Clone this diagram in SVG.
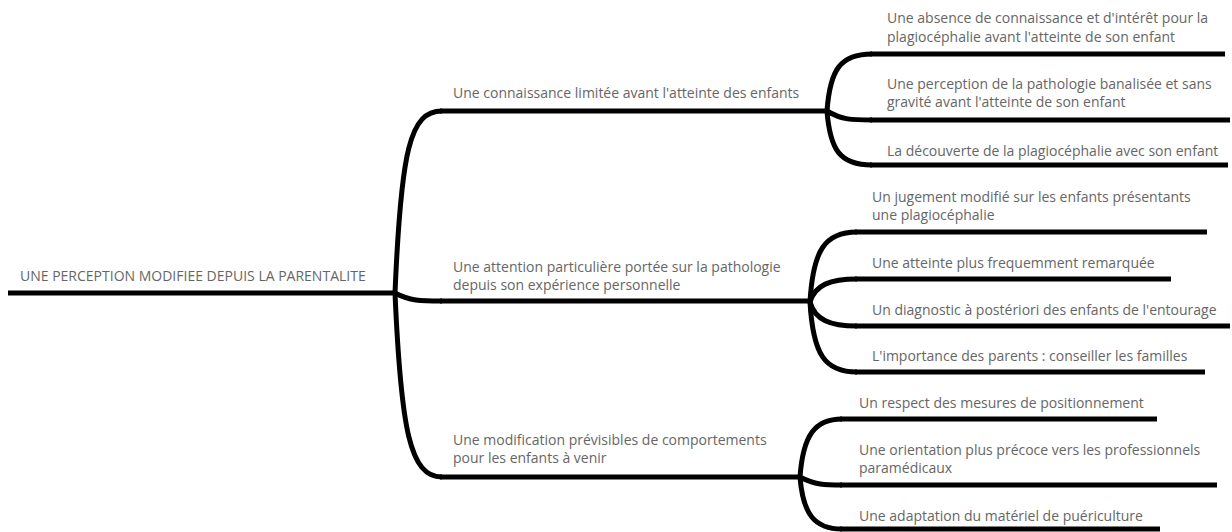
<svg xmlns="http://www.w3.org/2000/svg" width="1232" height="532" viewBox="0 0 1232 532">
<style>
text{font-family:"Open Sans","Noto Sans","DejaVu Sans",sans-serif;font-size:14px;fill:#666}
.u{stroke:#000;stroke-width:5;fill:none}
.c{stroke:#000;stroke-width:5;fill:none}
</style>
<rect width="1232" height="532" fill="#fff"/>
<g id="connectors">
<path class="c" d="M395,293 C401,150 410,111 442,111"/>
<path class="c" d="M395,293 C410,301 420,301 442,301"/>
<path class="c" d="M395,293 C401,430 410,477 442,477"/>
<path class="c" d="M827,111 C830,70 840,54 872,54"/>
<path class="c" d="M827,111 C842,120 852,120 872,120"/>
<path class="c" d="M827,111 C830,150 840,165 872,165"/>
<path class="c" d="M810,302 C813,250 825,232 857,232"/>
<path class="c" d="M810,302 C815,285 830,279 857,279"/>
<path class="c" d="M810,302 C815,320 830,326 857,326"/>
<path class="c" d="M810,302 C813,355 825,372 857,372"/>
<path class="c" d="M800,477 C803,435 815,419 842,419"/>
<path class="c" d="M800,477 C815,485 825,485 842,485"/>
<path class="c" d="M800,477 C803,515 815,529 842,529"/>
</g>
<g id="root">
<line class="u" x1="8" y1="293" x2="396" y2="293"/>
<text x="20" y="281">UNE PERCEPTION MODIFIEE DEPUIS LA PARENTALITE</text>
</g>
<g id="b1">
<line class="u" x1="440" y1="111" x2="828" y2="111"/>
<text x="453" y="98">Une connaissance limitée avant l'atteinte des enfants</text>
</g>
<g id="b2">
<line class="u" x1="440" y1="301" x2="811" y2="301"/>
<text x="453" y="272">Une attention particulière portée sur la pathologie</text>
<text x="453" y="290">depuis son expérience personnelle</text>
</g>
<g id="b3">
<line class="u" x1="440" y1="477" x2="801" y2="477"/>
<text x="453" y="445">Une modification prévisibles de comportements</text>
<text x="453" y="463">pour les enfants à venir</text>
</g>
<g id="c1a">
<line class="u" x1="870" y1="54" x2="1225" y2="54"/>
<text x="887" y="23">Une absence de connaissance et d'intérêt pour la</text>
<text x="887" y="42">plagiocéphalie avant l'atteinte de son enfant</text>
</g>
<g id="c1b">
<line class="u" x1="870" y1="120" x2="1230" y2="120"/>
<text x="887" y="89">Une perception de la pathologie banalisée et sans</text>
<text x="887" y="107">gravité avant l'atteinte de son enfant</text>
</g>
<g id="c1c">
<line class="u" x1="870" y1="165" x2="1228" y2="165"/>
<text x="887" y="156">La découverte de la plagiocéphalie avec son enfant</text>
</g>
<g id="c2a">
<line class="u" x1="855" y1="232" x2="1207" y2="232"/>
<text x="872" y="202">Un jugement modifié sur les enfants présentants</text>
<text x="872" y="220">une plagiocéphalie</text>
</g>
<g id="c2b">
<line class="u" x1="855" y1="279" x2="1171" y2="279"/>
<text x="872" y="268">Une atteinte plus frequemment remarquée</text>
</g>
<g id="c2c">
<line class="u" x1="855" y1="326" x2="1230" y2="326"/>
<text x="872" y="315">Un diagnostic à postériori des enfants de l'entourage</text>
</g>
<g id="c2d">
<line class="u" x1="855" y1="372" x2="1205" y2="372"/>
<text x="872" y="361">L'importance des parents : conseiller les familles</text>
</g>
<g id="c3a">
<line class="u" x1="840" y1="419" x2="1157" y2="419"/>
<text x="859" y="408">Un respect des mesures de positionnement</text>
</g>
<g id="c3b">
<line class="u" x1="840" y1="485" x2="1217" y2="485"/>
<text x="859" y="455">Une orientation plus précoce vers les professionnels</text>
<text x="859" y="473">paramédicaux</text>
</g>
<g id="c3c">
<line class="u" x1="840" y1="529" x2="1160" y2="529"/>
<text x="859" y="521">Une adaptation du matériel de puériculture</text>
</g>
</svg>
